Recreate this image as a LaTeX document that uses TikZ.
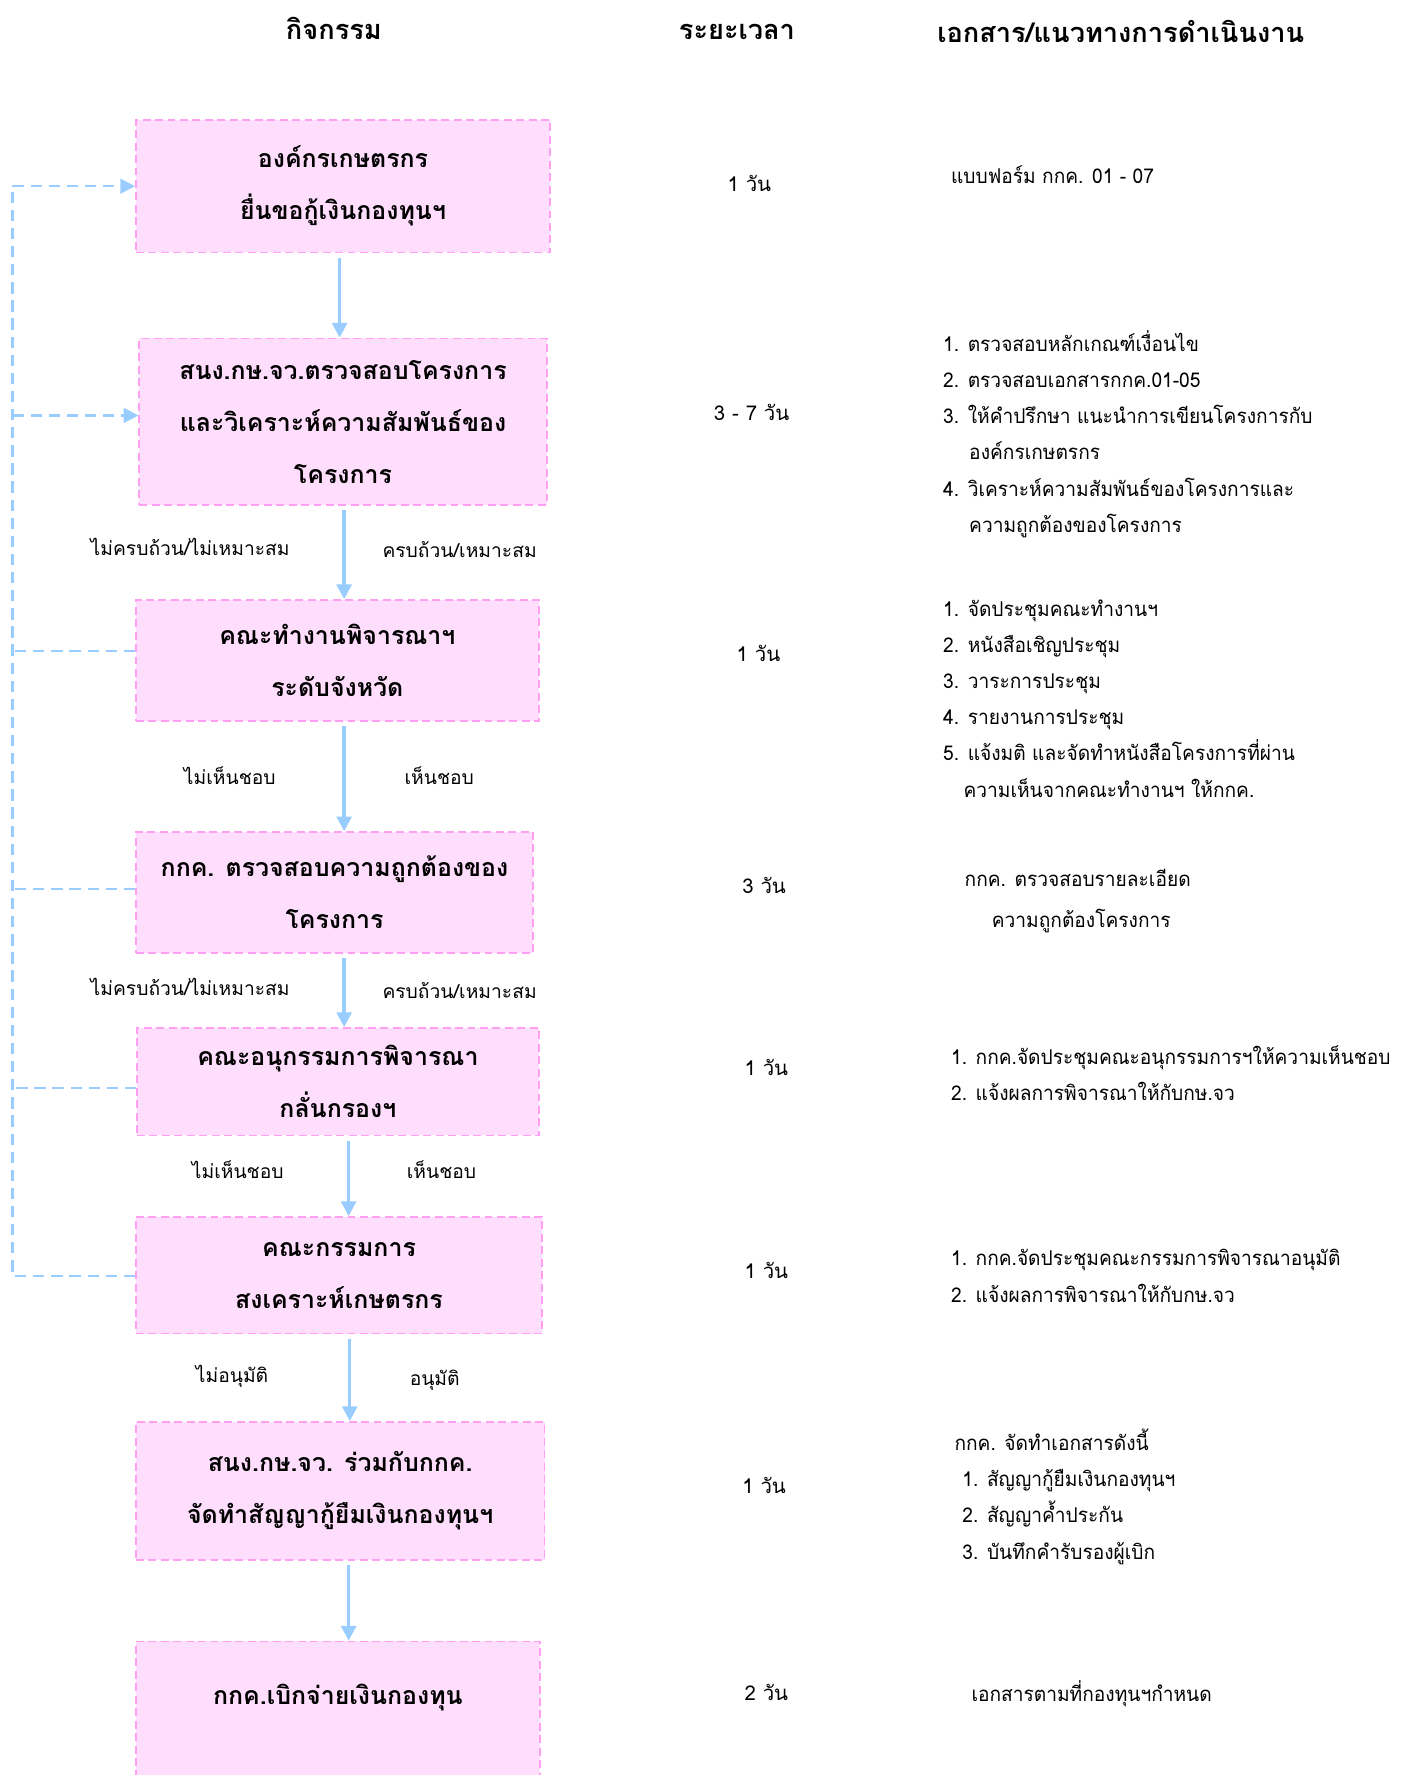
\documentclass[tikz,border=0pt]{standalone}
\usepackage{fontspec}
\usetikzlibrary{arrows.meta,calc}
\newfontfamily\thai[Script=Thai]{Loma}
\newfontfamily\thaic[Script=Thai,FakeStretch=0.94]{Loma}
\definecolor{boxfill}{HTML}{FFDEFD}
\definecolor{boxline}{HTML}{FF9FF2}
\definecolor{arr}{HTML}{99CCFF}
\tikzset{
  box/.style={draw=boxline, fill=boxfill, dash pattern=on 7pt off 4pt, line width=1.4pt,
    align=center, inner sep=0pt, font=\thai\bfseries\fontsize{22}{46}\selectfont},
  boxtext/.style={align=center, inner sep=0pt, font=\thai\bfseries\fontsize{22}{46}\selectfont},
  flow/.style={draw=arr, line width=3pt, shorten <=4pt, -{Triangle[width=13pt,length=13pt]}},
  fb/.style={draw=arr, line width=2pt, dash pattern=on 10pt off 6pt},
  fbarrow/.style={fb, -{Triangle[width=13pt,length=13pt]}},
  lbl/.style={inner sep=0pt, font=\thai\fontsize{17}{20}\selectfont},
  dur/.style={inner sep=0pt, font=\thai\fontsize{18}{20}\selectfont},
  doc/.style={inner sep=0pt, align=left, anchor=north west, font=\thaic\fontsize{18}{32}\selectfont},
  head/.style={inner sep=0pt, font=\thai\bfseries\fontsize{24}{28}\selectfont}
}
\begin{document}
\begin{tikzpicture}[x=1pt,y=-1pt]
\useasboundingbox (0,0) rectangle (1238,1568);
% headers
\node[head] (h1) at (295,25) {กิจกรรม};
\node[head] (h2) at (651,28) {ระยะเวลา};
\node[head] (h3) at (990,28) {เอกสาร/แนวทางการดำเนินงาน};
% boxes
\node[box, minimum width=366pt, minimum height=117pt] (b1) at (303,164.5) {องค์กรเกษตรกร\\ยื่นขอกู้เงินกองทุนฯ};
\node[box, minimum width=360pt, minimum height=147pt] (b2) at (303,372.5) {สนง.กษ.จว.ตรวจสอบโครงการ\\และวิเคราะห์ความสัมพันธ์ของ\\โครงการ};
\node[box, minimum width=356pt, minimum height=107pt] (b3) at (298,583.5) {คณะทำงานพิจารณาฯ\\ระดับจังหวัด};
\node[box, minimum width=351pt, minimum height=107pt] (b4) at (295.5,788.5) {กกค. ตรวจสอบความถูกต้องของ\\โครงการ};
\node[box, minimum width=355pt, minimum height=95pt] (b5) at (298.5,955.5) {คณะอนุกรรมการพิจารณา\\กลั่นกรองฯ};
\node[box, minimum width=359pt, minimum height=103pt] (b6) at (299.5,1126.5) {คณะกรรมการ\\สงเคราะห์เกษตรกร};
\node[box, minimum width=361pt, minimum height=122pt] (b7) at (300.5,1317) {สนง.กษ.จว. ร่วมกับกกค.\\จัดทำสัญญากู้ยืมเงินกองทุนฯ};
\node[box, minimum width=357pt, minimum height=140pt] (b8) at (298.5,1520) {};
\node[boxtext] (t8) at ([yshift=-50pt]b8.north) {กกค.เบิกจ่ายเงินกองทุน};
% main flow
\draw[flow] ([xshift=-3pt]b1.south) -- ([xshift=-3pt]b1.south |- b2.north);
\draw[flow] ([xshift=1pt]b2.south) -- ([xshift=1pt]b2.south |- b3.north);
\draw[flow] ([xshift=6pt]b3.south) -- ([xshift=6pt]b3.south |- b4.north);
\draw[flow] ([xshift=8.5pt]b4.south) -- ([xshift=8.5pt]b4.south |- b5.north);
\draw[flow] ([xshift=9.5pt]b5.south) -- ([xshift=9.5pt]b5.south |- b6.north);
\draw[flow] ([xshift=9.5pt]b6.south) -- ([xshift=9.5pt]b6.south |- b7.north);
\draw[flow] ([xshift=7.5pt]b7.south) -- ([xshift=7.5pt]b7.south |- b8.north);
% feedback
\coordinate (fbx) at (11,0);
\coordinate (f2) at ([yshift=5.5pt]b2.west);
\coordinate (f3) at ([yshift=8.5pt]b3.west);
\coordinate (f4) at ([yshift=3.5pt]b4.west);
\coordinate (f5) at ([yshift=-5.5pt]b5.west);
\coordinate (f6) at ([yshift=-0.5pt]b6.west);
\draw[fb] (f6) -| (fbx |- b1.west);
\draw[fbarrow] (fbx |- b1.west) -- (b1.west);
\draw[fbarrow] (fbx |- f2) -- (f2);
\draw[fb] (f3) -- (fbx |- f3);
\draw[fb] (f4) -- (fbx |- f4);
\draw[fb] (f5) -- (fbx |- f5);
% branch labels
\node[lbl] (l1) at (168,483) {ไม่ครบถ้วน/ไม่เหมาะสม};
\node[lbl] (l2) at (406,485) {ครบถ้วน/เหมาะสม};
\node[lbl] (l3) at (203,685) {ไม่เห็นชอบ};
\node[lbl] (l4) at (388,685) {เห็นชอบ};
\node[lbl] (l5) at (168,872) {ไม่ครบถ้วน/ไม่เหมาะสม};
\node[lbl] (l6) at (406,875) {ครบถ้วน/เหมาะสม};
\node[lbl] (l7) at (210,1033) {ไม่เห็นชอบ};
\node[lbl] (l8) at (390,1033) {เห็นชอบ};
\node[lbl] (l9) at (205,1216) {ไม่อนุมัติ};
\node[lbl] (l10) at (384,1219) {อนุมัติ};
% durations
\node[dur] (u1) at (662,162) {1 วัน};
\node[dur] (u2) at (664,364) {3 - 7 วัน};
\node[dur] (u3) at (670,577) {1 วัน};
\node[dur] (u4) at (675,782) {3 วัน};
\node[dur] (u5) at (677,943) {1 วัน};
\node[dur] (u6) at (677,1122) {1 วัน};
\node[dur] (u7) at (675,1312) {1 วัน};
\node[dur] (u8) at (677,1495) {2 วัน};
% documents
\node[doc] (d1) at (840,142) {\rule{0pt}{20pt}แบบฟอร์ม กกค. 01 - 07};
\node[doc] (d2) at (833,290) {\rule{0pt}{20pt}1. ตรวจสอบหลักเกณฑ์เงื่อนไข\\
2. ตรวจสอบเอกสารกกค.01-05\\
3. ให้คำปรึกษา แนะนำการเขียนโครงการกับ\\
\hspace*{23pt}องค์กรเกษตรกร\\
4. วิเคราะห์ความสัมพันธ์ของโครงการและ\\
\hspace*{23pt}ความถูกต้องของโครงการ};
\node[doc] (d3) at (833,524) {\rule{0pt}{20pt}1. จัดประชุมคณะทำงานฯ\\
2. หนังสือเชิญประชุม\\
3. วาระการประชุม\\
4. รายงานการประชุม\\
5. แจ้งมติ และจัดทำหนังสือโครงการที่ผ่าน\\
\hspace*{18pt}ความเห็นจากคณะทำงานฯ ให้กกค.};
\node[doc, font=\thaic\fontsize{18}{36}\selectfont] (d4) at (852,763) {\rule{0pt}{20pt}กกค. ตรวจสอบรายละเอียด\\
\hspace*{24pt}ความถูกต้องโครงการ};
\node[doc] (d5) at (840,920) {\rule{0pt}{20pt}1. กกค.จัดประชุมคณะอนุกรรมการฯให้ความเห็นชอบ\\
2. แจ้งผลการพิจารณาให้กับกษ.จว};
\node[doc] (d6) at (840,1098) {\rule{0pt}{20pt}1. กกค.จัดประชุมคณะกรรมการพิจารณาอนุมัติ\\
2. แจ้งผลการพิจารณาให้กับกษ.จว};
\node[doc] (d7) at (843,1261) {\rule{0pt}{20pt}กกค. จัดทำเอกสารดังนี้\\
\hspace*{7pt}1. สัญญากู้ยืมเงินกองทุนฯ\\
\hspace*{7pt}2. สัญญาค้ำประกัน\\
\hspace*{7pt}3. บันทึกคำรับรองผู้เบิก};
\node[doc] (d8) at (858,1483) {\rule{0pt}{20pt}เอกสารตามที่กองทุนฯกำหนด};
\end{tikzpicture}
\end{document}
